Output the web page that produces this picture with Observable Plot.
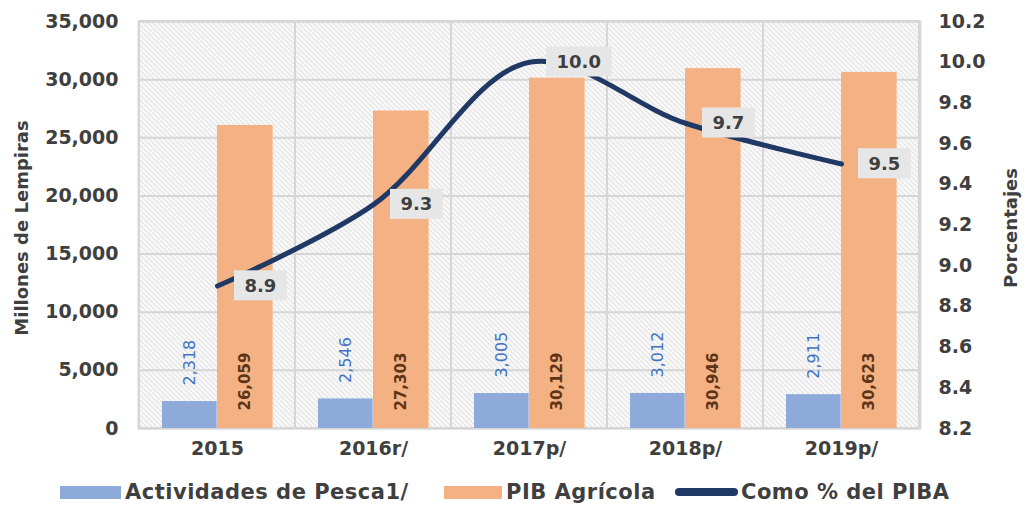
<!DOCTYPE html>
<html>
<head>
<meta charset="utf-8">
<script src="https://cdn.jsdelivr.net/npm/d3@7"></script>
<script src="https://cdn.jsdelivr.net/npm/@observablehq/plot@0.6"></script>
<style>
  body { margin: 0; background: #fff; font-family: "DejaVu Sans", Verdana, sans-serif; }
  #chart svg { display: block; }
  #legend { position: relative; height: 41px; width: 1024px; color: #3f3f3f; font-weight: bold; font-size: 21px; letter-spacing: 0.5px; }
  .item { position: absolute; top: 10px; display: flex; align-items: center; white-space: nowrap; }
  .sw { width: 61px; height: 13px; margin-right: 4px; }
  .ln { width: 63px; height: 8px; border-radius: 4px; background: #1f3864; margin-right: 3px; }
</style>
</head>
<body>
<div id="chart"></div>
<div id="legend"></div>
<script>
// ---- data ----
const years = ["2015", "2016r/", "2017p/", "2018p/", "2019p/"];
const pesca = [2318, 2546, 3005, 3012, 2911];          // Actividades de Pesca1/
const pib = [26059, 27303, 30129, 30946, 30623];        // PIB Agrícola
const pct = [8.9, 9.3, 10.0, 9.7, 9.5];                 // Como % del PIBA
const leftTicks = [0, 5000, 10000, 15000, 20000, 25000, 30000, 35000];
const pctTicks = [8.2, 8.4, 8.6, 8.8, 9.0, 9.2, 9.4, 9.6, 9.8, 10.0, 10.2];
const seriesNames = ["Actividades de Pesca1/", "PIB Agrícola", "Como % del PIBA"];
const colors = ["#8eaadb", "#f4b183", "#1f3864"];

const yMax = 35000, pMin = 8.2, pMax = 10.2;
const toY = v => (v - pMin) / (pMax - pMin) * yMax;
const fromY = y => pMin + y / yMax * (pMax - pMin);

const rows = years.map((year, i) => ({year, pesca: pesca[i], pib: pib[i], pct: pct[i]}));
const fmt = d3.format(",");

const W = 1024, mL = 138, mR = 104;
const bw = (W - mL - mR) / years.length;

const chart = Plot.plot({
  width: W,
  height: 470,
  marginLeft: mL,
  marginRight: mR,
  marginTop: 21,
  marginBottom: 42,
  style: {fontFamily: "DejaVu Sans, Verdana, sans-serif", fontSize: "19px", color: "#3f3f3f", background: "#fff"},
  x: {type: "band", domain: years, paddingInner: 0, paddingOuter: 0},
  y: {domain: [0, yMax]},
  marks: [
    Plot.frame({fill: "url(#hatch)", stroke: "#d9d9d9", strokeWidth: 2}),
    Plot.gridY({ticks: leftTicks, stroke: "#d6d6d6", strokeOpacity: 1, strokeWidth: 2}),
    Plot.barY(years, {x: d => d, y: () => yMax, fill: "none", stroke: "#d6d6d6", strokeWidth: 2}),
    Plot.barY(rows, {x: "year", y: "pesca", fill: colors[0], insetLeft: 23, insetRight: bw - 78}),
    Plot.barY(rows, {x: "year", y: "pib", fill: colors[1], insetLeft: 78, insetRight: bw - 134}),
    Plot.text(rows, {x: "year", y: "pesca", text: d => fmt(d.pesca), rotate: -90, textAnchor: "start", dx: -28, dy: -16, fill: "#4472c4", fontSize: 16}),
    Plot.text(rows, {x: "year", y: () => 0, text: d => fmt(d.pib), rotate: -90, textAnchor: "start", dx: 28, dy: -18, fill: "#5e3416", fontSize: 15, fontWeight: "bold"}),
    Plot.line(rows, {x: "year", y: d => toY(d.pct), stroke: colors[2], strokeWidth: 5, curve: "catmull-rom"}),
    Plot.text(rows, {x: "year", y: d => toY(d.pct), text: d => d.pct.toFixed(1), textAnchor: "start", dx: 27, fill: "#3f3f3f", fontSize: 18, fontWeight: "bold", ariaDescription: "pct-label"}),
    Plot.axisX({tickSize: 0, tickPadding: 13, fontWeight: "bold", fontSize: 19, label: null}),
    Plot.axisY({anchor: "left", ticks: leftTicks, tickFormat: fmt, tickSize: 0, tickPadding: 20, fontWeight: "bold", label: null}),
    Plot.axisY({anchor: "right", ticks: pctTicks.map(toY), tickFormat: d => fromY(d).toFixed(1), tickSize: 0, tickPadding: 18, fontWeight: "bold", label: null}),
    Plot.text(["Millones de Lempiras"], {frameAnchor: "left", text: d => d, rotate: -90, textAnchor: "middle", lineAnchor: "middle", dx: -116, dy: 3, fontWeight: "bold", fontSize: 18}),
    Plot.text(["Porcentajes"], {frameAnchor: "right", text: d => d, rotate: -90, textAnchor: "middle", lineAnchor: "middle", dx: 91, dy: 3, fontWeight: "bold", fontSize: 18})
  ]
});

document.getElementById("chart").appendChild(chart);

// hatch pattern for plot background
const ns = "http://www.w3.org/2000/svg";
const defs = document.createElementNS(ns, "defs");
defs.innerHTML = '<pattern id="hatch" patternUnits="userSpaceOnUse" width="5" height="5">' +
  '<rect width="5" height="5" fill="#fcfcfc"/>' +
  '<path d="M-1,-1 L6,6 M-1,4 L1,6 M4,-1 L6,1" stroke="#dadada" stroke-width="1.1"/></pattern>';
chart.insertBefore(defs, chart.firstChild);

// grey boxes behind percentage labels
const g = chart.querySelector('g[aria-description="pct-label"]');
if (g) {
  g.querySelectorAll("text").forEach(t => {
    const b = t.getBBox();
    const r = document.createElementNS(ns, "rect");
    r.setAttribute("x", b.x - 10.5);
    r.setAttribute("y", b.y - 4.5);
    r.setAttribute("width", b.width + 21);
    r.setAttribute("height", b.height + 9);
    r.setAttribute("fill", "#e6e6e6");
    r.setAttribute("transform", t.getAttribute("transform") || "");
    t.parentNode.insertBefore(r, t);
  });
}

// legend
const legend = document.getElementById("legend");
const lefts = [60, 444, 675];
seriesNames.forEach((name, i) => {
  const it = document.createElement("div");
  it.className = "item";
  it.style.left = lefts[i] + "px";
  const sw = document.createElement("div");
  if (i < 2) { sw.className = "sw"; sw.style.background = colors[i]; if (i === 1) sw.style.width = "58px"; }
  else { sw.className = "ln"; }
  const tx = document.createElement("span");
  tx.textContent = name;
  it.appendChild(sw);
  it.appendChild(tx);
  legend.appendChild(it);
});
</script>
</body>
</html>
